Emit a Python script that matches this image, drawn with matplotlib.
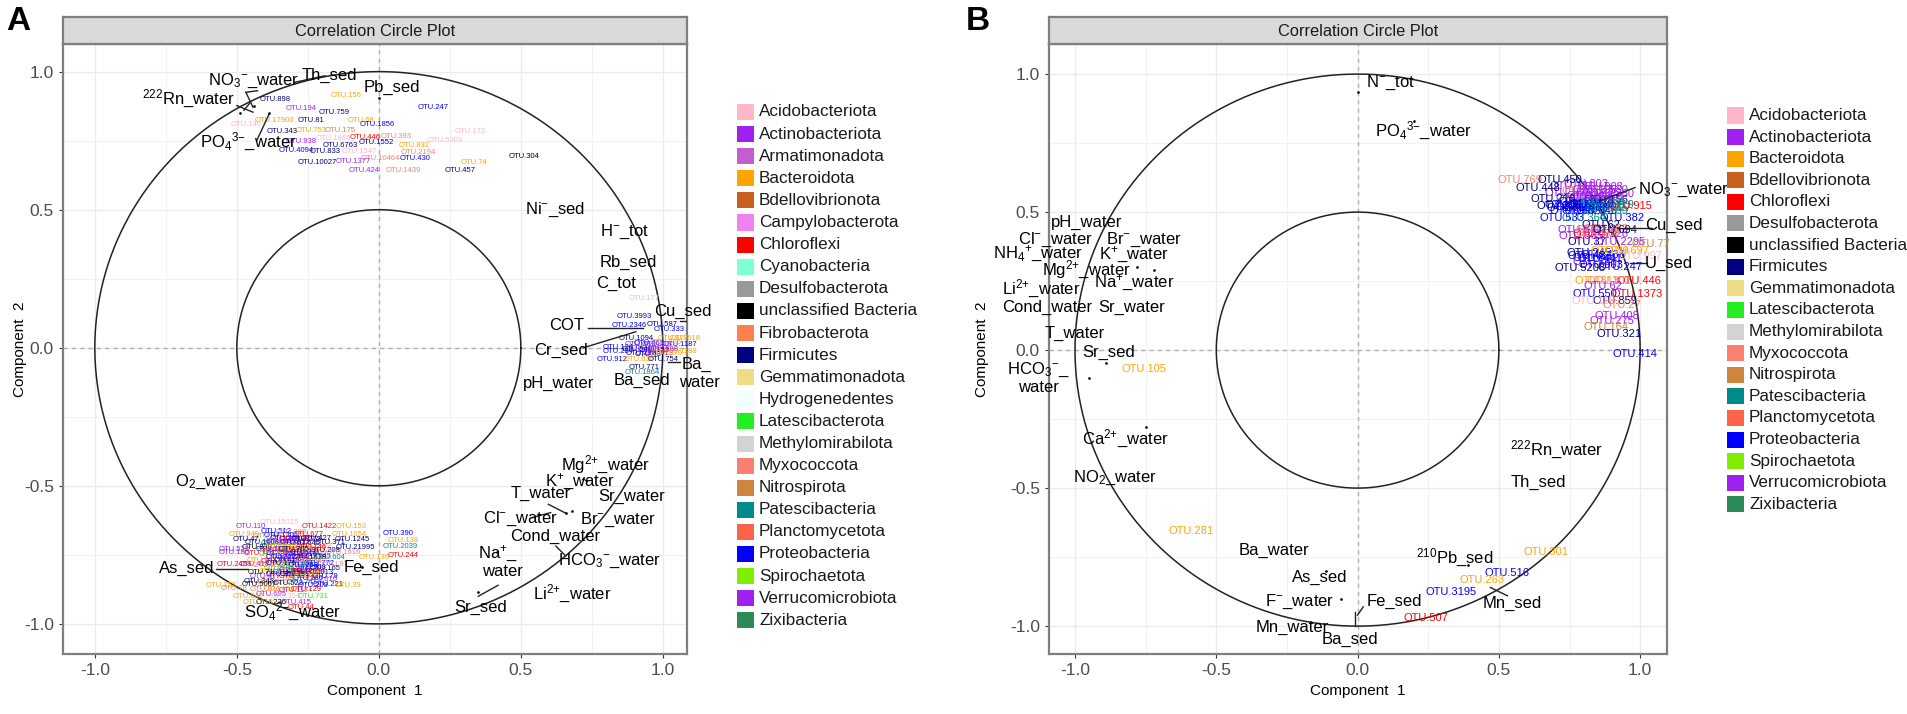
import numpy as np
import matplotlib
matplotlib.use('Agg')
import matplotlib.pyplot as plt
from matplotlib.patches import Rectangle

plt.rcParams['font.family'] = ['Liberation Sans', 'DejaVu Sans']
plt.rcParams['mathtext.fontset'] = 'custom'
plt.rcParams['mathtext.rm'] = 'Liberation Sans'
plt.rcParams['mathtext.default'] = 'regular'
plt.rcParams['axes.unicode_minus'] = False

W, H = 1907, 714

colors = {
    'Acidobacteriota': '#FFB6C8', 'Actinobacteriota': '#A020F0', 'Armatimonadota': '#C45ED0',
    'Bacteroidota': '#FFA500', 'Bdellovibrionota': '#C8601E', 'Campylobacterota': '#EE82EE',
    'Chloroflexi': '#FF0000', 'Cyanobacteria': '#7FFFD4', 'Desulfobacterota': '#999999',
    'unclassified Bacteria': '#000000', 'Fibrobacterota': '#FF7F50', 'Firmicutes': '#000080',
    'Gemmatimonadota': '#EEDD82', 'Hydrogenedentes': '#F0FFFF', 'Latescibacterota': '#22EE22',
    'Methylomirabilota': '#D3D3D3', 'Myxococcota': '#FA8072', 'Nitrospirota': '#CD853F',
    'Patescibacteria': '#008B8B', 'Planctomycetota': '#FF6347', 'Proteobacteria': '#0000FF',
    'Spirochaetota': '#7FEE00', 'Verrucomicrobiota': '#A020F0', 'Zixibacteria': '#2E8B57',
}
legend_a = ['Acidobacteriota', 'Actinobacteriota', 'Armatimonadota', 'Bacteroidota', 'Bdellovibrionota',
            'Campylobacterota', 'Chloroflexi', 'Cyanobacteria', 'Desulfobacterota', 'unclassified Bacteria',
            'Fibrobacterota', 'Firmicutes', 'Gemmatimonadota', 'Hydrogenedentes', 'Latescibacterota',
            'Methylomirabilota', 'Myxococcota', 'Nitrospirota', 'Patescibacteria', 'Planctomycetota',
            'Proteobacteria', 'Spirochaetota', 'Verrucomicrobiota', 'Zixibacteria']
legend_b = ['Acidobacteriota', 'Actinobacteriota', 'Bacteroidota', 'Bdellovibrionota', 'Chloroflexi',
            'Desulfobacterota', 'unclassified Bacteria', 'Firmicutes', 'Gemmatimonadota', 'Latescibacterota',
            'Methylomirabilota', 'Myxococcota', 'Nitrospirota', 'Patescibacteria', 'Planctomycetota',
            'Proteobacteria', 'Spirochaetota', 'Verrucomicrobiota', 'Zixibacteria']

# short names used in the OTU tables below
P, AC, OR, RD, NV, BL, SA, PE, TE, GR, BK, GY = ('Acidobacteriota', 'Actinobacteriota', 'Bacteroidota',
    'Chloroflexi', 'Firmicutes', 'Proteobacteria', 'Myxococcota', 'Nitrospirota', 'Patescibacteria',
    'Latescibacterota', 'unclassified Bacteria', 'Methylomirabilota')

# panel A, environmental variables
vars_a = [
    ('NO$_3$$^{{-}}$_water', -0.44, 0.965), ('Th_sed', -0.175, 0.987), ('$^{222}$Rn_water', -0.67, 0.90),
    ('Pb_sed', 0.047, 0.943), ('PO$_4$$^{3{-}}$_water', -0.46, 0.745), ('Ni$^{{-}}$_sed', 0.62, 0.50),
    ('H$^{{-}}$_tot', 0.865, 0.42), ('Rb_sed', 0.88, 0.31), ('C_tot', 0.835, 0.233), ('Cu_sed', 1.07, 0.13),
    ('COT', 0.66, 0.08), ('Cr_sed', 0.64, -0.01), ('Ba_', 1.12, -0.06), ('water', 1.13, -0.125),
    ('Ba_sed', 0.925, -0.12), ('pH_water', 0.634, -0.128), ('Mg$^{2{+}}$_water', 0.797, -0.423),
    ('K$^{{+}}$_water', 0.707, -0.485), ('Sr_water', 0.89, -0.537), ('T_water', 0.57, -0.529),
    ('Br$^{{-}}$_water', 0.84, -0.625), ('Cl$^{{-}}$_water', 0.5, -0.62), ('Cond_water', 0.62, -0.683),
    ('HCO$_3$$^{{-}}$_water', 0.814, -0.771), ('Na$^{{+}}$_', 0.42, -0.745), ('water', 0.437, -0.81),
    ('Li$^{2{+}}$_water', 0.68, -0.89), ('Sr_sed', 0.36, -0.94), ('O$_2$_water', -0.59, -0.485),
    ('As_sed', -0.677, -0.80), ('Fe_sed', -0.026, -0.797), ('SO$_4$$^{2{-}}$_water', -0.304, -0.956),
]
segs_a = [
    ((-0.468, 0.925), (-0.427, 0.931)), ((-0.468, 0.925), (-0.443, 0.871)), ((-0.5, 0.877), (-0.443, 0.853)),
    ((-0.475, 0.86), (-0.455, 0.885)), ((-0.43, 0.75), (-0.386, 0.847)), ((-0.297, 0.961), (-0.19, 0.985)),
    ((0.735, 0.07), (0.93, 0.07)), ((0.72, 0.0), (0.905, 0.058)), ((1.018, -0.051), (1.06, -0.051)),
    ((1.06, 0.097), (1.1, 0.097)), ((0.597, -0.567), (0.658, -0.599)), ((0.54, -0.615), (0.605, -0.597)),
    ((0.623, -0.718), (0.658, -0.754)), ((-0.574, -0.80), (-0.461, -0.80)), ((0.35, -0.90), (0.42, -0.86)),
]
dots_a = [(-0.44, 0.875), (-0.49, 0.85), (-0.386, 0.85), (0.0, 0.905), (0.66, -0.60), (0.72, -0.475),
          (0.73, -0.48), (0.415, -0.74), (0.35, -0.885), (-0.06, -0.795), (0.68, -0.59)]

otu_a_top = [
    ('OTU.898', -0.365, 0.90, NV), ('OTU.156', -0.114, 0.913, OR), ('OTU.194', -0.275, 0.868, AC),
    ('OTU.759', -0.158, 0.853, NV), ('OTU.247', 0.192, 0.871, BL), ('OTU.17903', -0.367, 0.822, OR),
    ('OTU.81', -0.239, 0.822, NV), ('OTU.68', -0.063, 0.822, OR), ('OTU.146', -0.468, 0.807, P),
    ('OTU.1856', -0.004, 0.807, BL), ('OTU.343', -0.342, 0.783, NV), ('OTU.753', -0.24, 0.786, OR),
    ('OTU.175', -0.135, 0.786, PE), ('OTU.173', 0.323, 0.783, P), ('OTU.446', -0.05, 0.762, RD),
    ('OTU.393', 0.06, 0.764, SA), ('OTU.1665', -0.16, 0.758, P), ('OTU.938', -0.272, 0.746, AC),
    ('OTU.6763', -0.135, 0.732, NV), ('OTU.1552', -0.009, 0.742, NV), ('OTU.832', 0.123, 0.732, OR),
    ('OTU.5203', 0.234, 0.75, P), ('OTU.4094', -0.291, 0.716, BL), ('OTU.833', -0.19, 0.71, NV),
    ('OTU.1547', -0.07, 0.71, P), ('OTU.2194', 0.139, 0.708, SA), ('OTU.10464', 0.006, 0.687, SA),
    ('OTU.430', 0.127, 0.687, BL), ('OTU.304', 0.513, 0.692, BK), ('OTU.74', 0.335, 0.671, OR),
    ('OTU.10027', -0.218, 0.671, NV), ('OTU.1377', -0.089, 0.675, AC), ('OTU.424', -0.053, 0.641, AC),
    ('OTU.1439', 0.085, 0.641, SA), ('OTU.457', 0.285, 0.641, NV),
]
otu_a_edge = [
    ('OTU.15315', -0.35, -0.633, P), ('OTU.110', -0.452, -0.649, AC), ('OTU.1422', -0.21, -0.649, RD),
    ('OTU.153', -0.099, -0.649, OR), ('OTU.949', -0.473, -0.676, OR), ('OTU.1054', -0.106, -0.676, OR),
    ('OTU.47', -0.468, -0.694, NV), ('OTU.1245', -0.094, -0.694, NV), ('OTU.390', 0.069, -0.672, BL),
    ('OTU.138', 0.087, -0.698, OR), ('OTU.2039', 0.074, -0.718, TE), ('OTU.244', 0.087, -0.751, RD),
    ('OTU.21995', -0.084, -0.724, NV), ('OTU.1616', -0.126, -0.74, SA), ('OTU.523', -0.509, -0.73, AC),
    ('OTU.186', -0.509, -0.743, AC), ('OTU.2458', -0.509, -0.785, RD), ('OTU.71', -0.414, -0.815, BK),
    ('OTU.5067', -0.42, -0.858, BK), ('OTU.152', -0.556, -0.861, OR), ('OTU.78', -0.509, -0.873, SA),
    ('OTU.129', -0.255, -0.877, RD), ('OTU.221', -0.179, -0.859, BL), ('OTU.39', -0.108, -0.862, OR),
    ('OTU.731', -0.232, -0.90, GR), ('OTU.640', -0.46, -0.90, OR), ('OTU.236', -0.379, -0.922, BK),
    ('OTU.415', -0.291, -0.922, AC), ('OTU.44', -0.273, -0.94, RD), ('OTU.318', -0.426, -0.922, OR),
    ('OTU.139', -0.015, -0.76, OR), ('OTU.97', -0.155, -0.785, SA), ('OTU.79', -0.19, -0.827, BL),
]
otu_a_core = [
    ('OTU.512', -0.36, -0.665, BL), ('OTU.288', -0.31, -0.67, SA), ('OTU.677', -0.25, -0.675, RD),
    ('OTU.903', -0.39, -0.685, OR), ('OTU.364', -0.33, -0.69, BL), ('OTU.1127', -0.27, -0.695, AC),
    ('OTU.427', -0.22, -0.69, NV), ('OTU.371', -0.17, -0.705, NV), ('OTU.1008', -0.41, -0.705, NV),
    ('OTU.256', -0.36, -0.71, TE), ('OTU.781', -0.31, -0.715, PE), ('OTU.645', -0.26, -0.71, NV),
    ('OTU.192', -0.22, -0.72, SA), ('OTU.830', -0.43, -0.725, BK), ('OTU.319', -0.38, -0.73, BL),
    ('OTU.1503', -0.33, -0.735, RD), ('OTU.472', -0.28, -0.73, OR), ('OTU.566', -0.24, -0.74, SA),
    ('OTU.208', -0.19, -0.735, NV), ('OTU.714', -0.42, -0.745, RD), ('OTU.133', -0.37, -0.75, GR),
    ('OTU.2230', -0.32, -0.755, AC), ('OTU.916', -0.27, -0.75, BL), ('OTU.345', -0.22, -0.755, AC),
    ('OTU.604', -0.17, -0.76, TE), ('OTU.281', -0.41, -0.77, OR), ('OTU.457', -0.36, -0.775, RD),
    ('OTU.1892', -0.31, -0.77, NV), ('OTU.339', -0.26, -0.775, GR), ('OTU.772', -0.21, -0.78, BL),
    ('OTU.418', -0.44, -0.785, AC), ('OTU.652', -0.39, -0.79, SA), ('OTU.227', -0.34, -0.795, P),
    ('OTU.1340', -0.29, -0.79, TE), ('OTU.508', -0.24, -0.795, BL), ('OTU.165', -0.19, -0.80, NV),
    ('OTU.861', -0.37, -0.81, OR), ('OTU.394', -0.32, -0.815, BL), ('OTU.729', -0.27, -0.81, NV),
    ('OTU.2013', -0.22, -0.815, BL), ('OTU.477', -0.40, -0.83, AC), ('OTU.155', -0.35, -0.835, SA),
    ('OTU.933', -0.30, -0.83, RD), ('OTU.286', -0.25, -0.835, BL), ('OTU.610', -0.20, -0.84, AC),
    ('OTU.348', -0.42, -0.845, NV), ('OTU.1176', -0.37, -0.85, OR), ('OTU.523', -0.32, -0.855, NV),
    ('OTU.741', -0.27, -0.85, TE), ('OTU.209', -0.23, -0.86, BL), ('OTU.836', -0.40, -0.875, SA),
    ('OTU.462', -0.35, -0.875, OR), ('OTU.117', -0.30, -0.88, AC), ('OTU.695', -0.38, -0.895, AC),
    ('OTU.304', -0.33, -0.90, P),
    ('OTU.1201', -0.345, -0.68, BL), ('OTU.638', -0.30, -0.695, RD), ('OTU.273', -0.255, -0.695, NV),
    ('OTU.559', -0.345, -0.70, AC), ('OTU.812', -0.295, -0.705, BL), ('OTU.146', -0.24, -0.725, RD),
    ('OTU.390', -0.35, -0.725, OR), ('OTU.705', -0.30, -0.73, NV), ('OTU.231', -0.26, -0.74, BL),
    ('OTU.984', -0.355, -0.74, AC), ('OTU.467', -0.30, -0.75, RD), ('OTU.1618', -0.245, -0.76, NV),
    ('OTU.322', -0.345, -0.76, BL), ('OTU.876', -0.295, -0.765, AC), ('OTU.541', -0.24, -0.775, SA),
    ('OTU.179', -0.345, -0.78, NV), ('OTU.620', -0.305, -0.785, OR), ('OTU.263', -0.265, -0.79, BL),
    ('OTU.738', -0.35, -0.80, GR), ('OTU.415', -0.30, -0.805, AC), ('OTU.1094', -0.25, -0.81, RD),
    ('OTU.356', -0.345, -0.82, BL), ('OTU.892', -0.295, -0.82, NV), ('OTU.187', -0.26, -0.825, OR),
]
otu_a_right = [
    ('OTU.3993', 0.90, 0.113, BL), ('OTU.2346', 0.882, 0.079, BL), ('OTU.587', 0.998, 0.086, NV),
    ('OTU.333', 1.023, 0.067, BL), ('OTU.177', 0.935, 0.18, P), ('OTU.1094', 0.906, 0.034, NV),
    ('OTU.677', 1.035, 0.034, OR), ('OTU.618', 1.077, 0.034, OR), ('OTU.124', 0.841, 0.001, BL),
    ('OTU.284', 0.841, -0.012, BL), ('OTU.912', 0.823, -0.041, BL), ('OTU.636', 0.917, -0.041, OR),
    ('OTU.754', 1.0, -0.041, NV), ('OTU.1187', 1.06, 0.011, BL), ('OTU.1188', 1.06, -0.012, OR),
    ('OTU.771', 0.935, -0.07, NV), ('OTU.1864', 0.929, -0.088, TE), ('OTU.201', 0.92, 0.01, AC),
    ('OTU.463', 0.95, 0.015, BL), ('OTU.318', 0.98, 0.012, AC), ('OTU.725', 1.01, 0.018, SA),
    ('OTU.540', 0.91, -0.008, NV), ('OTU.669', 0.94, -0.004, AC), ('OTU.152', 0.97, -0.01, BL),
    ('OTU.888', 1.0, -0.005, AC), ('OTU.296', 0.925, -0.022, BL), ('OTU.437', 0.955, -0.025, NV),
    ('OTU.813', 0.985, -0.022, AC), ('OTU.370', 1.015, -0.02, OR),
]

# panel B
vars_b = [
    ('N$^{{-}}$_tot', 0.115, 0.969), ('PO$_4$$^{3{-}}$_water', 0.232, 0.793), ('NO$_3$$^{{-}}$_water', 1.153, 0.581),
    ('Cu_sed', 1.12, 0.45), ('U_sed', 1.10, 0.313), ('pH_water', -0.96, 0.463), ('Cl$^{{-}}$_water', -1.07, 0.40),
    ('Br$^{{-}}$_water', -0.757, 0.40), ('NH$_4$$^{{+}}$_water', -1.13, 0.348), ('K$^{{+}}$_water', -0.79, 0.344),
    ('Mg$^{2{+}}$_water', -0.96, 0.29), ('Na$^{{+}}$_water', -0.79, 0.242), ('Li$^{2{+}}$_water', -1.12, 0.22),
    ('Cond_water', -1.10, 0.154), ('Sr_water', -0.8, 0.154), ('T_water', -1.0, 0.062), ('Sr_sed', -0.88, -0.009),
    ('HCO$_3$$^{{-}}$_', -1.13, -0.07), ('water', -1.13, -0.137), ('Ca$^{2{+}}$_water', -0.822, -0.322),
    ('NO$_2$_water', -0.86, -0.463), ('$^{222}$Rn_water', 0.705, -0.361), ('Th_sed', 0.64, -0.48),
    ('Ba_water', -0.295, -0.727), ('As_sed', -0.133, -0.824), ('$^{210}$Pb_sed', 0.344, -0.753),
    ('Fe_sed', 0.129, -0.912), ('F$^{{-}}$_water', -0.206, -0.912), ('Mn_sed', 0.546, -0.916),
    ('Mn_water', -0.232, -1.004), ('Ba_sed', -0.026, -1.048),
]
segs_b = [
    ((0.858, 0.541), (0.982, 0.589)), ((0.918, 0.444), (1.042, 0.444)), ((0.965, 0.317), (1.024, 0.317)),
    ((-0.01, -0.95), (-0.01, -1.0)), ((0.0, -0.96), (0.02, -0.93)), ((0.47, -0.86), (0.53, -0.89)),
]
dots_b = [(0.2, 0.83), (0.0, 0.935), (-0.72, 0.29), (-0.78, 0.30), (-0.89, -0.045), (-0.95, -0.10),
          (-0.75, -0.28), (0.39, -0.78), (-0.06, -0.90), (-0.11, -0.80)]

otu_b_main = [
    ('OTU.769', 0.574, 0.617, SA), ('OTU.450', 0.717, 0.617, NV), ('OTU.448', 0.64, 0.586, NV),
    ('OTU.210', 0.693, 0.548, NV), ('OTU.205', 0.711, 0.523, NV), ('OTU.915', 0.965, 0.523, RD),
    ('OTU.533', 0.723, 0.478, BL), ('OTU.382', 0.936, 0.478, BL), ('OTU.364', 0.80, 0.478, TE),
    ('OTU.62', 0.86, 0.455, NV), ('OTU.572', 0.788, 0.435, AC), ('OTU.154', 0.85, 0.435, SA),
    ('OTU.694', 0.91, 0.435, NV), ('OTU.37', 0.811, 0.39, NV), ('OTU.2295', 0.929, 0.39, AC),
    ('OTU.77', 1.036, 0.385, PE), ('OTU.89', 0.894, 0.36, OR), ('OTU.697', 0.953, 0.36, OR),
    ('OTU.997', 1.0, 0.34, P), ('OTU.48', 0.811, 0.34, BL), ('OTU.441', 0.857, 0.33, BL),
    ('OTU.5208', 0.787, 0.297, NV), ('OTU.247', 0.93, 0.30, BL), ('OTU.446', 0.995, 0.25, RD),
    ('OTU.811', 0.846, 0.25, OR), ('OTU.302', 0.89, 0.25, SA), ('OTU.62', 0.87, 0.232, AC),
    ('OTU.550', 0.84, 0.204, BL), ('OTU.1373', 0.989, 0.204, RD), ('OTU.859', 0.912, 0.177, NV),
    ('OTU.118', 0.835, 0.177, P), ('OTU.27', 0.935, 0.163, SA), ('OTU.408', 0.918, 0.123, AC),
    ('OTU.275', 0.90, 0.107, AC), ('OTU.164', 0.88, 0.082, PE), ('OTU.321', 0.927, 0.059, NV),
    ('OTU.414', 0.98, -0.015, BL),
    ('OTU.105', -0.757, -0.07, OR), ('OTU.281', -0.589, -0.656, OR), ('OTU.301', 0.667, -0.731, OR),
    ('OTU.516', 0.529, -0.806, BL), ('OTU.263', 0.439, -0.833, OR), ('OTU.3195', 0.331, -0.877, BL),
    ('OTU.507', 0.241, -0.969, RD),
]
otu_b_core = [
    ('OTU.121', 0.76, 0.595, AC), ('OTU.303', 0.81, 0.60, AC), ('OTU.908', 0.86, 0.59, AC),
    ('OTU.142', 0.74, 0.57, AC), ('OTU.617', 0.80, 0.575, SA), ('OTU.225', 0.85, 0.57, AC),
    ('OTU.380', 0.90, 0.565, AC), ('OTU.733', 0.78, 0.55, AC), ('OTU.494', 0.83, 0.55, AC),
    ('OTU.156', 0.88, 0.545, NV), ('OTU.312', 0.74, 0.525, BL), ('OTU.287', 0.78, 0.52, BL),
    ('OTU.654', 0.82, 0.525, BL), ('OTU.401', 0.86, 0.52, TE), ('OTU.719', 0.90, 0.525, TE),
    ('OTU.238', 0.76, 0.505, BL), ('OTU.523', 0.80, 0.505, BL), ('OTU.846', 0.84, 0.505, BL),
    ('OTU.199', 0.88, 0.505, TE), ('OTU.365', 0.79, 0.415, AC), ('OTU.470', 0.84, 0.42, RD),
    ('OTU.128', 0.88, 0.42, AC), ('OTU.903', 0.86, 0.31, BL), ('OTU.245', 0.82, 0.35, NV),
    ('OTU.264', 0.79, 0.535, BL), ('OTU.779', 0.83, 0.53, BL), ('OTU.351', 0.87, 0.535, TE),
    ('OTU.612', 0.75, 0.515, BL), ('OTU.483', 0.81, 0.515, BL), ('OTU.927', 0.89, 0.515, TE),
    ('OTU.196', 0.84, 0.58, AC), ('OTU.530', 0.88, 0.58, AC), ('OTU.744', 0.82, 0.56, AC),
    ('OTU.318', 0.86, 0.555, AC), ('OTU.605', 0.85, 0.425, SA), ('OTU.272', 0.88, 0.44, SA),
    ('OTU.841', 0.84, 0.335, BL), ('OTU.436', 0.87, 0.345, BL), ('OTU.159', 0.84, 0.32, AC),
]


def add_panel(px_left, px_right, xlim, ylim, variables, segments, dots, otu_groups, otu_size, letter, letter_x, ypad):
    ax = fig.add_axes([px_left / W, 1 - 654 / H, (px_right - px_left) / W, (654 - 44) / H])
    ax.set_xlim(xlim)
    ax.set_ylim(ylim)
    ticks = [-1.0, -0.5, 0.0, 0.5, 1.0]
    ax.set_xticks(ticks)
    ax.set_yticks(ticks)
    ax.set_xticks([-0.75, -0.25, 0.25, 0.75], minor=True)
    ax.set_yticks([-0.75, -0.25, 0.25, 0.75], minor=True)
    ax.grid(which='major', color='#EBEBEB', lw=1.0)
    ax.grid(which='minor', color='#F2F2F2', lw=0.8)
    ax.set_axisbelow(True)
    ax.tick_params(which='minor', length=0)
    ax.tick_params(which='major', labelsize=12.5, labelcolor='#4D4D4D', color='#333333', length=3)
    for s in ax.spines.values():
        s.set_color('#7F7F7F')
        s.set_linewidth(1.6)
    ax.set_xlabel('Component  1', fontsize=11, labelpad=4)
    ax.set_ylabel('Component  2', fontsize=11, labelpad=ypad)
    ax.axhline(0, color='#B0B0B0', lw=1, ls='--', dashes=(3, 3))
    ax.axvline(0, color='#B0B0B0', lw=1, ls='--', dashes=(3, 3))
    theta = np.linspace(0, 2 * np.pi, 400)
    for r in [1.0, 0.5]:
        ax.plot(r * np.cos(theta), r * np.sin(theta), color='#222222', lw=1.1, zorder=2)
    for group in otu_groups:
        for name, x, y, phylum in group:
            ax.text(x, y, name, color=colors[phylum], fontsize=otu_size, ha='center', va='center', zorder=3)
    for p0, p1 in segments:
        ax.plot([p0[0], p1[0]], [p0[1], p1[1]], color='#222222', lw=1.0, zorder=4)
    ax.plot([d[0] for d in dots], [d[1] for d in dots], ls='', marker='.', ms=1.8, color='black', zorder=4)
    for label, x, y in variables:
        ax.text(x, y, label, fontsize=12, ha='center', va='center', color='black', zorder=5)

    strip = fig.add_axes([px_left / W, 1 - 44 / H, (px_right - px_left) / W, 27 / H])
    strip.set_facecolor('#D9D9D9')
    strip.set_xticks([])
    strip.set_yticks([])
    for s in strip.spines.values():
        s.set_color('#7F7F7F')
        s.set_linewidth(1.6)
    strip.text(0.5, 0.47, 'Correlation Circle Plot', ha='center', va='center', fontsize=11.8,
               transform=strip.transAxes, color='#1A1A1A')
    fig.text(letter_x / W, 1 - 21 / H, letter, fontsize=24, fontweight='bold', va='center', ha='left')
    return ax


def add_key(names, key_x, first_y, dy):
    for i, name in enumerate(names):
        y = first_y + i * dy
        fig.add_artist(Rectangle((key_x / W, 1 - (y + 8) / H), 17 / W, 16 / H, transform=fig.transFigure,
                                 facecolor=colors[name], edgecolor='none'))
        fig.text((key_x + 22) / W, 1 - y / H, name, fontsize=12.3, va='center', ha='left', color='#1A1A1A')


fig = plt.figure(figsize=(W / 100, H / 100), dpi=100)
add_panel(63, 687, (-1.112, 1.085), (-1.109, 1.10), vars_a, segs_a, dots_a,
          [otu_a_top, otu_a_core, otu_a_edge, otu_a_right], 5.5, 'A', 6, -2.5)
add_panel(1049, 1667, (-1.092, 1.095), (-1.101, 1.109), vars_b, segs_b, dots_b,
          [otu_b_core, otu_b_main], 8, 'B', 966, 15)
add_key(legend_a, 737, 112, 22.1)
add_key(legend_b, 1727, 115.5, 21.6)

fig.savefig('out.png', dpi=100)
